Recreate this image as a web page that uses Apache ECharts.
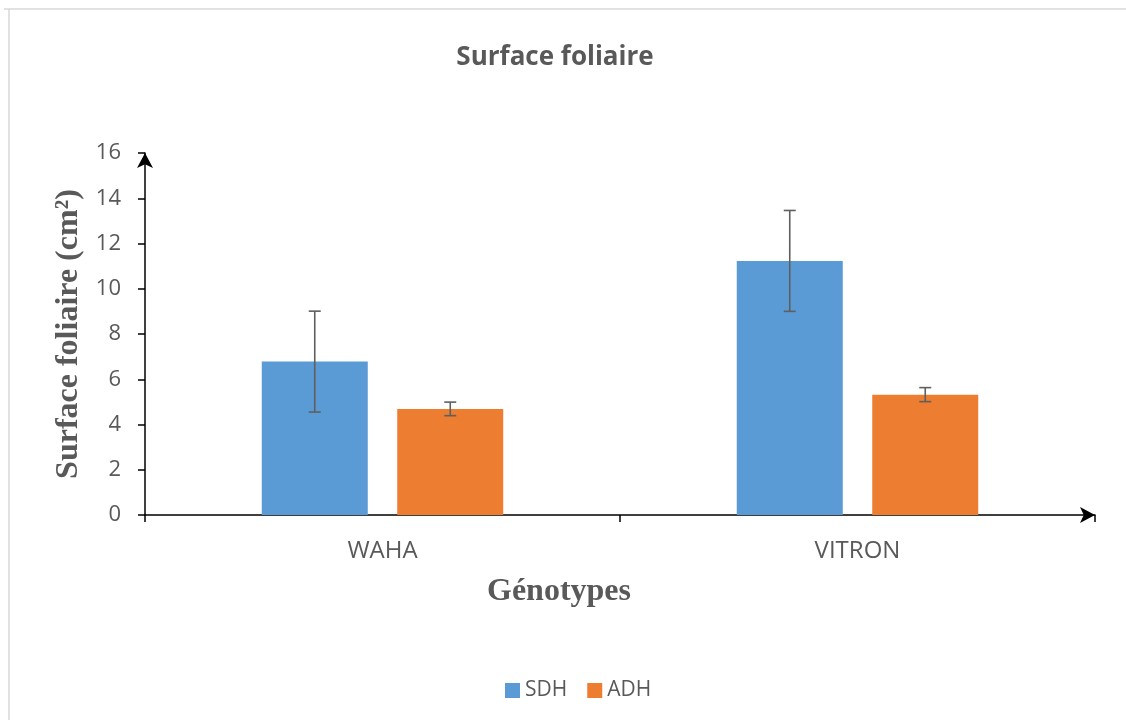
<!DOCTYPE html>
<html>
<head>
<meta charset="utf-8">
<script src="https://cdn.jsdelivr.net/npm/echarts@6/dist/echarts.min.js"></script>
<style>html,body{margin:0;padding:0;background:#fff}#c{width:1126px;height:720px}</style>
</head>
<body>
<div id="c"></div>
<script>
var categories = ['WAHA', 'VITRON'];
var sdh = [6.78, 11.23];
var adh = [4.69, 5.32];
var sdhErr = [2.23, 2.23];
var adhErr = [0.30, 0.31];
var yTicks = [0, 2, 4, 6, 8, 10, 12, 14, 16];

var chart = echarts.init(document.getElementById('c'));
var BAR_W = 106, GAP = 29.5;
var OFF = (BAR_W + GAP) / 2;

function errSeries(vals, errs, offset) {
  return {
    type: 'custom',
    z: 10,
    silent: true,
    data: vals.map(function (v, i) { return [i, v - errs[i], v + errs[i]]; }),
    renderItem: function (params, api) {
      var lo = api.coord([api.value(0), api.value(1)]);
      var hi = api.coord([api.value(0), api.value(2)]);
      var x = lo[0] + offset;
      var cap = 6;
      var st = { stroke: '#5f5f5f', lineWidth: 1.6 };
      return {
        type: 'group',
        children: [
          { type: 'line', shape: { x1: x, y1: lo[1], x2: x, y2: hi[1] }, style: st },
          { type: 'line', shape: { x1: x - cap, y1: lo[1], x2: x + cap, y2: lo[1] }, style: st },
          { type: 'line', shape: { x1: x - cap, y1: hi[1], x2: x + cap, y2: hi[1] }, style: st }
        ]
      };
    }
  };
}

chart.setOption({
  animation: false,
  backgroundColor: '#fff',
  title: {
    text: 'Surface foliaire',
    left: 550, textAlign: 'center', top: 40,
    textStyle: { fontFamily: 'Open Sans', fontWeight: 'bold', fontSize: 26, color: '#595959' }
  },
  graphic: [
    { type: 'line', shape: { x1: 4, y1: 9, x2: 1126, y2: 9 }, style: { stroke: '#d9d9d9', lineWidth: 1.5 } },
    { type: 'line', shape: { x1: 9, y1: 9, x2: 9, y2: 720 }, style: { stroke: '#d9d9d9', lineWidth: 1.5 } }
  ],
  legend: {
    data: ['SDH', 'ADH'],
    left: 500, top: 675,
    icon: 'rect', itemWidth: 15, itemHeight: 15, itemGap: 20,
    textStyle: { fontFamily: 'Open Sans', fontSize: 21, color: '#595959' }
  },
  grid: { left: 145, right: 31, top: 153, bottom: 205, containLabel: false },
  xAxis: {
    type: 'category',
    data: categories,
    name: 'Génotypes',
    nameLocation: 'middle',
    nameGap: 61,
    nameTextStyle: { fontFamily: 'Liberation Serif', fontWeight: 'bold', fontSize: 32, color: '#595959', padding: [0, 122, 0, 0] },
    axisLine: { lineStyle: { color: '#000', width: 1.5 }, symbol: ['none', 'arrow'], symbolSize: [12, 15] },
    axisTick: { show: true, alignWithLabel: false, length: 7, lineStyle: { color: '#000', width: 1.5 } },
    axisLabel: { margin: 24, fontFamily: 'Open Sans', fontSize: 24, color: '#595959' },
    splitLine: { show: false }
  },
  yAxis: {
    type: 'value',
    min: 0, max: 16, interval: 2,
    name: 'Surface foliaire (cm²)',
    nameLocation: 'middle',
    nameGap: 60,
    nameTextStyle: { fontFamily: 'Liberation Serif', fontWeight: 'bold', fontSize: 32, color: '#595959' },
    axisLine: { show: true, lineStyle: { color: '#000', width: 1.5 }, symbol: ['none', 'arrow'], symbolSize: [12, 15] },
    axisTick: { show: true, length: 7, lineStyle: { color: '#000', width: 1.5 } },
    axisLabel: {
      margin: 24, fontFamily: 'Open Sans', fontSize: 22, color: '#595959',
      formatter: function (v) { return yTicks.indexOf(v) >= 0 ? String(v) : ''; }
    },
    splitLine: { show: false }
  },
  series: [
    { name: 'SDH', type: 'bar', data: sdh, barWidth: BAR_W, barGap: (GAP / BAR_W * 100).toFixed(1) + '%', itemStyle: { color: '#5B9BD5' } },
    { name: 'ADH', type: 'bar', data: adh, barWidth: BAR_W, itemStyle: { color: '#ED7D31' } },
    errSeries(sdh, sdhErr, -OFF),
    errSeries(adh, adhErr, OFF)
  ]
});
</script>
</body>
</html>
